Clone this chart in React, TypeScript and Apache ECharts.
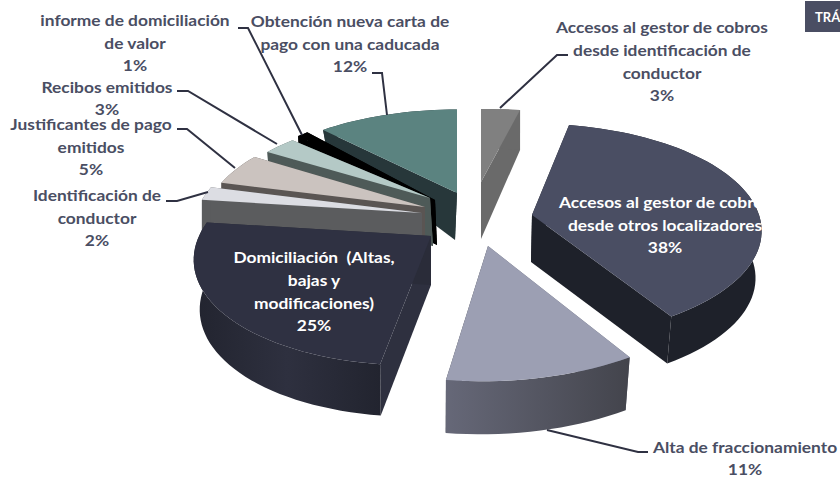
import React, { useEffect, useRef } from "react";
import * as echarts from "echarts";

const categories = [
  "Accesos al gestor de cobros\ndesde identificación de\nconductor",
  "Accesos al gestor de cobros\ndesde otros localizadores",
  "Alta de fraccionamiento",
  "Domiciliación  (Altas,\nbajas y\nmodificaciones)",
  "Identificación de\nconductor",
  "Justificantes de pago\nemitidos",
  "Recibos emitidos",
  "informe de domiciliación\nde valor",
  "Obtención nueva carta de\npago con una caducada",
];
const values = [3, 38, 11, 25, 2, 5, 3, 1, 12];

// Back-to-front painting order of the slices
const paintOrder = [8, 7, 6, 5, 4, 0, 3, 1, 2];

const PERSPECTIVE = 0.15;
// Exploded position and projected radii of each slice: top face, bottom face
const topFaces = [
  [481, 182, 239, 84, 0],
  [532, 215, 227, 105, 0],
  [488, 246, 240, 115, -0.05],
  [431, 236, 232, 110, -0.13],
  [422, 213, 226, 107, 0],
  [425, 207, 218, 101, 0],
  [430, 198, 208, 93, 0],
  [435, 200, 207, 103, 0],
  [457, 193, 217, 96, 0],
];
const bottomFaces = [
  [481, 239, 239, 104, 0],
  [531, 262, 222, 105, 0],
  [487, 299, 235, 115, -0.05],
  [431, 285, 226, 112, -0.13],
  [422, 262, 226, 107, 0],
  [425, 250, 218, 101, 0],
  [433, 246, 208, 93, 0],
  [437, 245, 207, 103, 0],
  [455, 240, 210, 148, 0],
];
const topColors = ["#808080", "#4a4e63", "#9c9fb3", "#2f3142", "#dcdde3", "#cbc3bf", "#b4c9c6", "#000000", "#5b8380"];
const sideColors = [
  ["#6a6a6a", "#6a6a6a"],
  ["#1e212a", "#1e212a"],
  ["#666878", "#43444c"],
  ["#2e303f", "#22242f"],
  ["#5b5c5e", "#5b5c5e"],
  ["#5a5553", "#5a5553"],
  ["#4e5a58", "#4e5a58"],
  ["#000000", "#000000"],
  ["#27373a", "#27373a"],
];

const labelSpots = [
  [662, 16, "#4a4e63"],
  [665, 191, "#ffffff"],
  [745, 436, "#4a4e63"],
  [314, 246, "#ffffff"],
  [97, 184, "#4a4e63"],
  [91, 113, "#4a4e63"],
  [107, 76, "#4a4e63"],
  [135, 9, "#4a4e63"],
  [350, 10, "#4a4e63"],
];
const leaders = [
  [[568, 55], [557, 55], [500, 108]],
  [],
  [[547, 430], [638, 452], [648, 452]],
  [],
  [[166, 201], [177, 201], [208, 192]],
  [[177, 129], [187, 129], [235, 168]],
  [[177, 91], [188, 91], [277, 144]],
  [[238, 28], [248, 28], [302, 135]],
  [[372, 73], [382, 73], [387, 115]],
];

const LABEL_FONT = 'bold 15.5px Lato, "Open Sans", sans-serif';
const LABEL_STRETCH = 1.12;
const LINE = 23;

const total = values.reduce((a, b) => a + b, 0);
const startAngles = values.map((_, i) => (values.slice(0, i).reduce((a, b) => a + b, 0) / total) * Math.PI * 2);
const endAngles = values.map((v, i) => startAngles[i] + (v / total) * Math.PI * 2);

function project(face: number[], t: number): number[] {
  const [ax, ay, rx, ry, shear] = face;
  const X = Math.sin(t);
  const Y = Math.cos(t);
  const w = 1 + PERSPECTIVE * Y;
  const dy = (-ry * Y) / w;
  return [ax + (rx * X) / w + shear * dy, ay + dy];
}

function arc(face: number[], a: number, b: number): number[][] {
  const n = Math.max(2, Math.ceil(Math.abs(b - a) / 0.04));
  const pts: number[][] = [];
  for (let i = 0; i <= n; i++) pts.push(project(face, a + ((b - a) * i) / n));
  return pts;
}

function renderItem(_: any, api: any) {
  const i = api.value(0);
  const top = topFaces[i];
  const bot = bottomFaces[i];
  const a = startAngles[i];
  const b = endAngles[i];
  const [c0, c1] = sideColors[i];
  const sideFill =
    c0 === c1
      ? c0
      : new echarts.graphic.LinearGradient(0, 0, 1, 0, [
          { offset: 0, color: i === 3 ? c1 : c0 },
          { offset: i === 3 ? 0.5 : 1, color: i === 3 ? c0 : c1 },
          { offset: 1, color: c1 },
        ]);
  const topApex = [top[0], top[1]];
  const botApex = [bot[0], bot[1]];
  const poly = (points: number[][], fill: any) => ({
    type: "polygon",
    shape: { points },
    style: { fill },
  });
  return {
    type: "group",
    children: [
      poly([topApex, project(top, a), project(bot, a), botApex], c0),
      poly([topApex, project(top, b), project(bot, b), botApex], i === 3 ? "#2a2c39" : c1),
      poly([...arc(top, a, b), ...arc(bot, b, a)], sideFill),
      poly([topApex, ...arc(top, a, b)], topColors[i]),
    ],
  };
}

export default function App() {
  const ref = useRef<HTMLDivElement>(null);
  useEffect(() => {
    const chart = echarts.init(ref.current!, undefined, { renderer: "svg" });
    const names = categories.map((name, i) => ({
      type: "text",
      z: 20,
      x: labelSpots[i][0] as number,
      y: labelSpots[i][1] as number,
      scaleX: LABEL_STRETCH,
      style: {
        text: name,
        fill: labelSpots[i][2] as string,
        font: LABEL_FONT,
        lineHeight: LINE,
        align: "center",
        verticalAlign: "top",
      },
    }));
    const percents = categories.map((name, i) => ({
      type: "text",
      z: 20,
      x: labelSpots[i][0] as number,
      y: (labelSpots[i][1] as number) + LINE * (name.split("\n").length + 0.5) - 1,
      scaleX: LABEL_STRETCH,
      style: {
        text: `${values[i]}%`,
        fill: labelSpots[i][2] as string,
        font: LABEL_FONT,
        lineHeight: 14,
        align: "center",
        verticalAlign: "middle",
      },
    }));
    const lines = leaders
      .filter((l) => l.length)
      .map((points) => ({
        type: "polyline",
        z: 15,
        shape: { points },
        style: { stroke: "#2f3142", lineWidth: 2, fill: "none" },
      }));
    chart.setOption({
      animation: false,
      backgroundColor: "#ffffff",
      series: [
        {
          type: "custom",
          coordinateSystem: "none",
          renderItem,
          data: paintOrder.map((i) => [i, values[i]]),
          encode: { value: 1 },
          silent: true,
        },
      ],
      graphic: [
        ...lines,
        ...names,
        ...percents,
        { type: "rect", z: 18, shape: { x: 805, y: 1, width: 35, height: 31 }, style: { fill: "#4a4e63" } },
        {
          type: "text",
          z: 19,
          x: 815,
          y: 10,
          style: { text: "TRÁ", fill: "#ffffff", font: "bold 13px Lato, sans-serif", align: "left", verticalAlign: "top" },
        },
      ],
    });
    return () => chart.dispose();
  }, []);
  return <div ref={ref} style={{ position: "absolute", left: 0, top: 0, width: 840, height: 477 }} />;
}
